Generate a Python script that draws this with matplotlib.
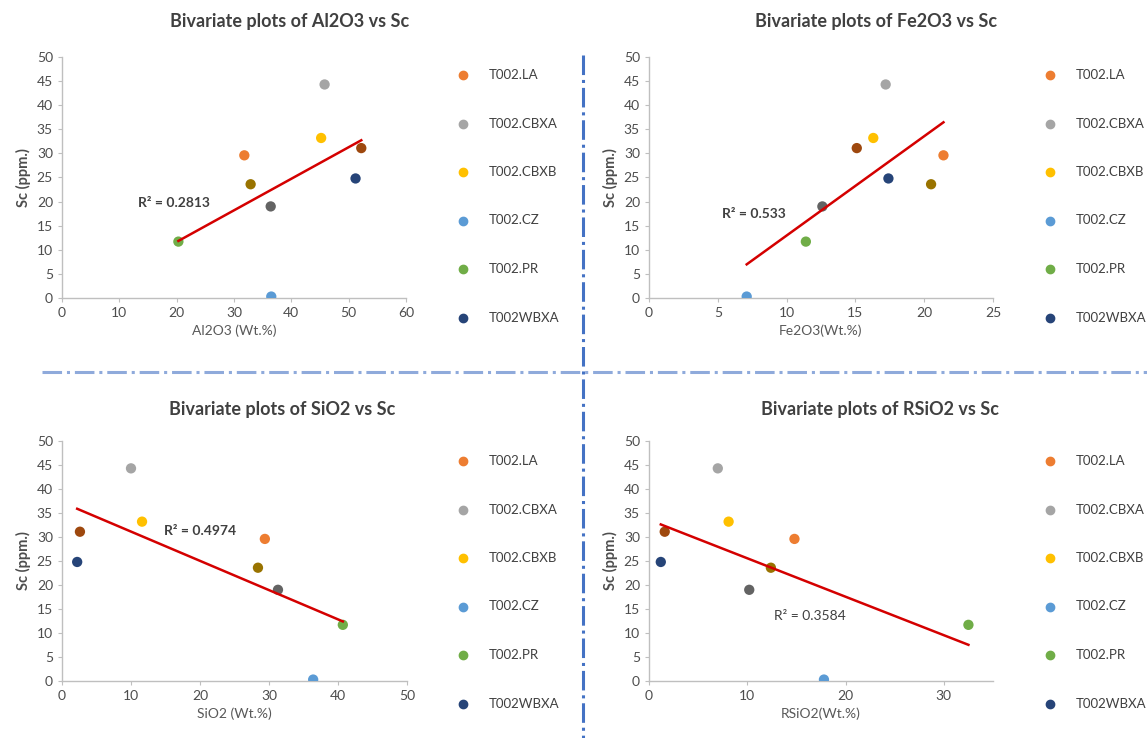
import numpy as np
import matplotlib.pyplot as plt
from matplotlib.lines import Line2D

plt.rcParams['font.family'] = ['Lato', 'DejaVu Sans']

# samples: 6 named in legend + 3 extra series (not in legend)
samples = ['T002.LA', 'T002.CBXA', 'T002.CBXB', 'T002.CZ', 'T002.PR', 'T002WBXA',
           'S7', 'S8', 'S9']
colors = ['#ED7D31', '#A5A5A5', '#FFC000', '#5B9BD5', '#70AD47', '#264478',
          '#9E480E', '#636363', '#997300']
legend_n = 6

sc = [29.6, 44.3, 33.2, 0.3, 11.7, 24.8, 31.1, 19.0, 23.6]
al2o3 = [31.8, 45.8, 45.2, 36.5, 20.3, 51.2, 52.2, 36.4, 32.9]
fe2o3 = [21.4, 17.2, 16.3, 7.1, 11.4, 17.4, 15.1, 12.6, 20.5]
sio2 = [29.4, 10.0, 11.6, 36.4, 40.7, 2.2, 2.6, 31.3, 28.4]
rsio2 = [14.8, 7.0, 8.1, 17.8, 32.5, 1.2, 1.6, 10.2, 12.4]

titles = ['Bivariate plots of Al2O3 vs Sc', 'Bivariate plots of Fe2O3 vs Sc',
          'Bivariate plots of SiO2 vs Sc', 'Bivariate plots of RSiO2 vs Sc']
xlabels = ['Al2O3 (Wt.%)', 'Fe2O3(Wt.%)', 'SiO2 (Wt.%)', 'RSiO2(Wt.%)']
r2_labels = ['R² = 0.2813', 'R² = 0.533', 'R² = 0.4974', 'R² = 0.3584']
r2_bold = [True, True, True, False]
r2_pos = [(13.2, 19.7), (5.3, 17.4), (14.8, 31.2), (12.7, 13.5)]
xlims = [60, 25, 50, 35]
xsteps = [10, 5, 10, 10]
xdata = [al2o3, fe2o3, sio2, rsio2]

fig = plt.figure(figsize=(11.47, 7.38), dpi=100)

W, H = 1147, 738
boxes = [(62, 57, 406, 298), (649, 57, 993, 298),
         (62, 441, 407, 681), (649, 441, 993, 681)]
title_x = [290, 876, 282, 880]
title_y = [22, 22, 410, 410]
legend_x = [463, 1050, 463, 1050]
legend_y0 = [75, 75, 461, 461]

grey = '#4D4D4D'
for i in range(4):
    x0, y0, x1, y1 = boxes[i]
    ax = fig.add_axes([x0 / W, 1 - y1 / H, (x1 - x0) / W, (y1 - y0) / H])
    xs = np.array(xdata[i])
    ys = np.array(sc)
    for j in range(len(xs)):
        ax.scatter(xs[j], ys[j], s=55, color=colors[j], zorder=3, edgecolors='none')
    k, b = np.polyfit(xs, ys, 1)
    xx = np.array([xs.min(), xs.max()])
    ax.plot(xx, k * xx + b, color='#D40000', lw=1.8, zorder=4)
    ax.text(r2_pos[i][0], r2_pos[i][1], r2_labels[i], fontsize=10, color='#404040',
            fontweight='bold' if r2_bold[i] else 'normal', va='center')
    ax.set_xlim(0, xlims[i])
    ax.set_ylim(0, 50)
    ax.set_xticks(np.arange(0, xlims[i] + 0.1, xsteps[i]))
    ax.set_yticks(np.arange(0, 51, 5))
    for s in ['top', 'right']:
        ax.spines[s].set_visible(False)
    for s in ['left', 'bottom']:
        ax.spines[s].set_color('#BFBFBF')
        ax.spines[s].set_linewidth(1.0)
    ax.tick_params(colors=grey, labelsize=10, length=3, color='#BFBFBF')
    ax.set_xlabel(xlabels[i], fontsize=10, color='#595959', labelpad=4)
    ax.set_ylabel('Sc (ppm.)', fontsize=10.5, color=grey, fontweight='bold', labelpad=4)
    ax.patch.set_alpha(0)

    fig.text(title_x[i] / W, 1 - title_y[i] / H, titles[i], fontsize=13,
             fontweight='bold', color='#404040', ha='center', va='center')
    for j in range(legend_n):
        yy = 1 - (legend_y0[i] + j * 48.5) / H
        fig.add_artist(Line2D([legend_x[i] / W], [yy], marker='o', markersize=6,
                              color=colors[j], linestyle='none',
                              transform=fig.transFigure))
        fig.text((legend_x[i] + 26) / W, yy, samples[j], fontsize=9.5,
                 color='#404040', va='center')

# dash-dot dividers
fig.add_artist(Line2D([583 / W, 583 / W], [1 - 55 / H, 0], color='#4472C4', lw=2.2,
                      linestyle='-.', transform=fig.transFigure))
fig.add_artist(Line2D([42 / W, 1], [1 - 372 / H, 1 - 372 / H], color='#4472C4', lw=2.2,
                      alpha=0.6, linestyle='-.', transform=fig.transFigure))

fig.savefig('out.png', dpi=100)
